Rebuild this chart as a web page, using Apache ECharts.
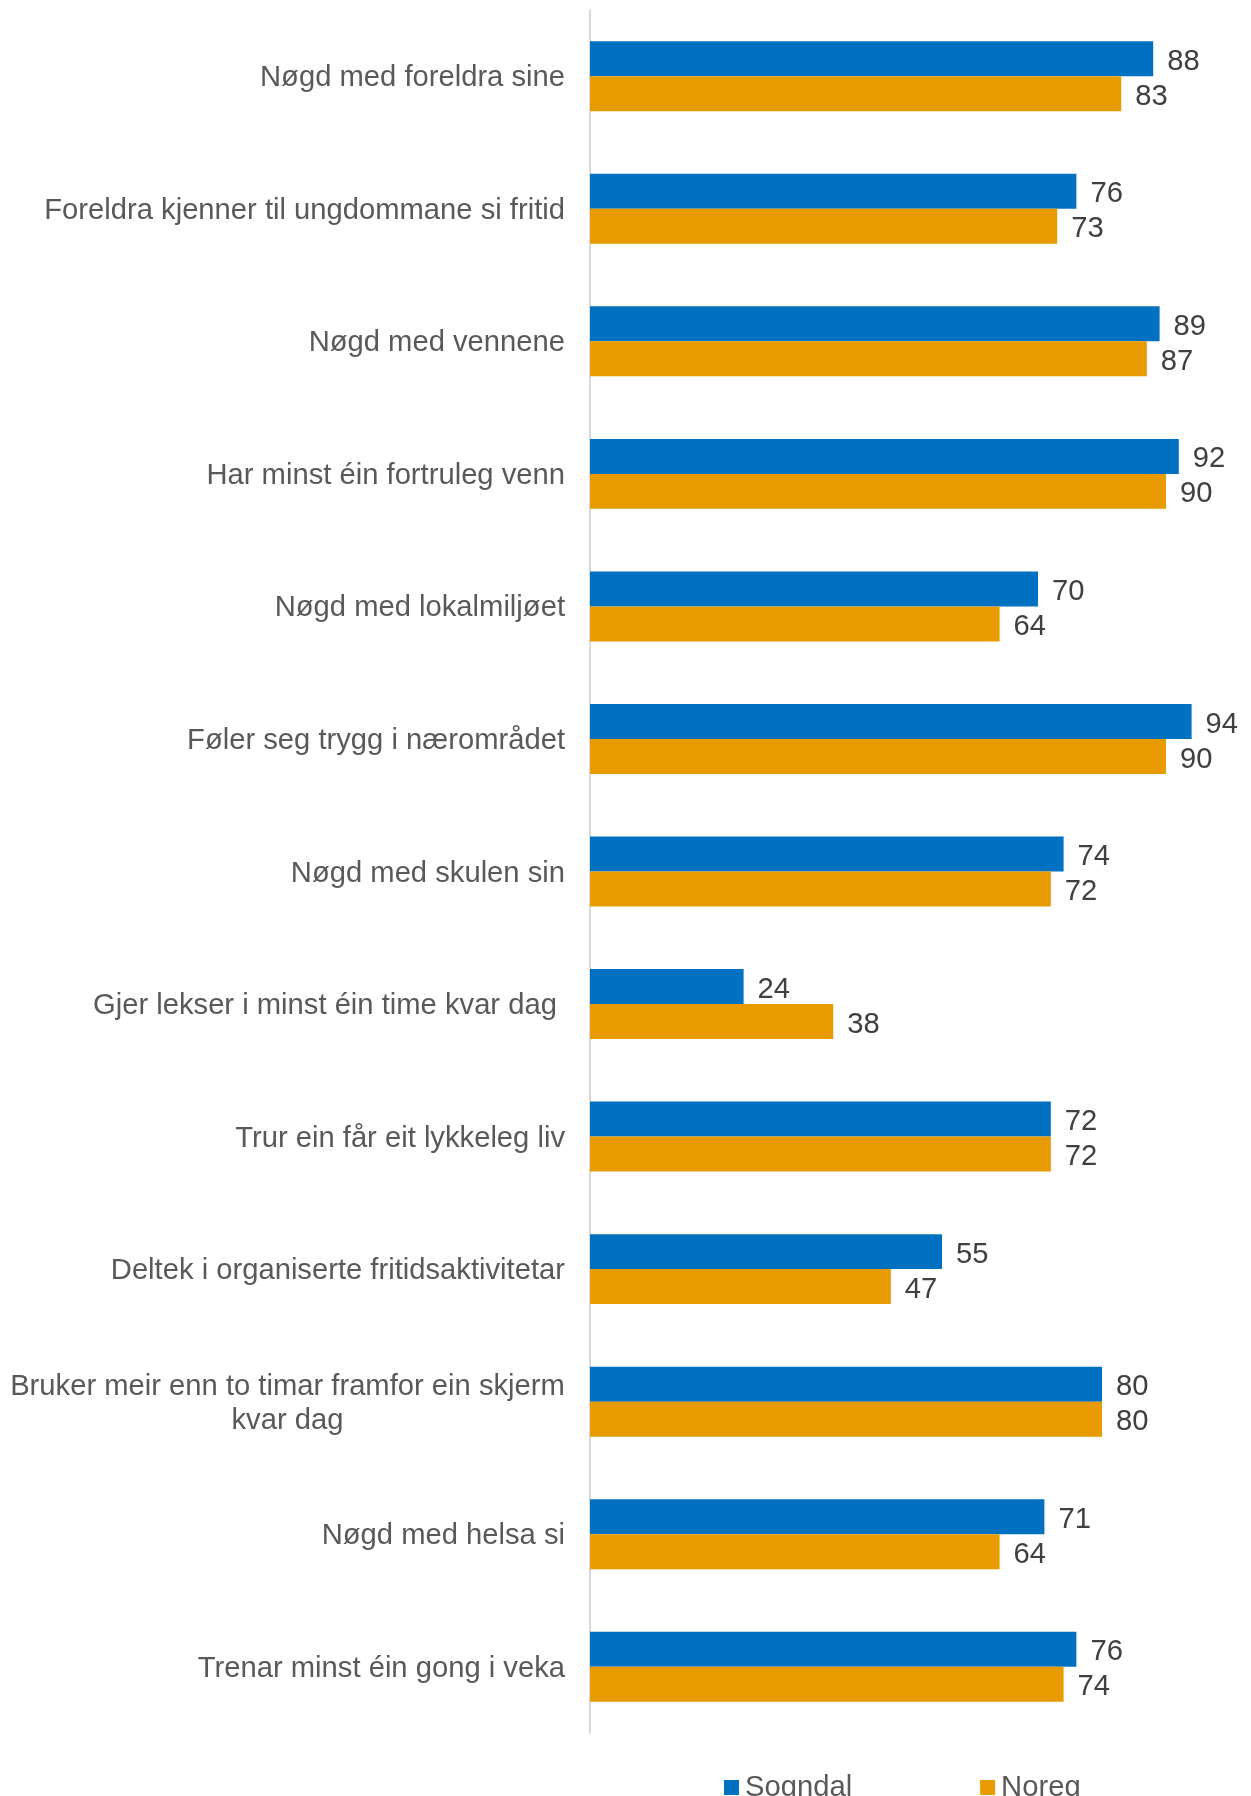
<!DOCTYPE html>
<html>
<head>
<meta charset="utf-8">
<script src="https://cdn.jsdelivr.net/npm/echarts@6/dist/echarts.min.js"></script>
<style>
html,body{margin:0;padding:0;background:#fff;}
#chart{width:1251px;height:1796px;}
</style>
</head>
<body>
<div id="chart"></div>
<script>
const categories = [
  "Nøgd med foreldra sine",
  "Foreldra kjenner til ungdommane si fritid",
  "Nøgd med vennene",
  "Har minst éin fortruleg venn",
  "Nøgd med lokalmiljøet",
  "Føler seg trygg i nærområdet",
  "Nøgd med skulen sin",
  "Gjer lekser i minst éin time kvar dag ",
  "Trur ein får eit lykkeleg liv",
  "Deltek i organiserte fritidsaktivitetar",
  "Bruker meir enn to timar framfor ein skjerm\nkvar dag",
  "Nøgd med helsa si",
  "Trenar minst éin gong i veka"
];
const seriesNames = ["Sogndal", "Noreg"];
const sogndal = [88, 76, 89, 92, 70, 94, 74, 24, 72, 55, 80, 71, 76];
const noreg = [83, 73, 87, 90, 64, 90, 72, 38, 72, 47, 80, 64, 74];

const FONT = "'Liberation Sans', Arial, sans-serif";
const FS = 29.2;
const measureCtx = document.createElement('canvas').getContext('2d');
measureCtx.font = FS + 'px ' + FONT;
function blockWidth(s) {
  return Math.ceil(Math.max.apply(null, s.split('\n').map(l => measureCtx.measureText(l).width)));
}
const chart = echarts.init(document.getElementById('chart'), null, {renderer: 'canvas'});
const labelStyle = {
  show: true, position: 'right', distance: 14, offset: [0, 3],
  fontSize: FS, fontFamily: FONT, color: '#404040'
};
const multi = categories.filter(c => c.indexOf('\n') >= 0)[0];
const multiW = multi ? blockWidth(multi) : 500;
chart.setOption({
  animation: false,
  backgroundColor: '#ffffff',
  grid: {left: 590, right: 21, top: 10, bottom: 63, containLabel: false},
  legend: {
    data: seriesNames,
    left: 719, top: 1768,
    itemWidth: 15, itemHeight: 15, itemGap: 128,
    icon: 'rect',
    textStyle: {fontSize: FS, fontFamily: FONT, color: '#595959', padding: [0,0,0,1]}
  },
  xAxis: {
    type: 'value', min: 0, max: 100,
    show: false,
    splitLine: {show: false}
  },
  yAxis: {
    type: 'category', inverse: true,
    data: categories,
    axisLine: {show: true, lineStyle: {color: '#D9D9D9', width: 2}},
    axisTick: {show: false},
    axisLabel: {
      margin: 25, fontSize: FS, fontFamily: FONT, color: '#595959', lineHeight: 34,
      padding: [4, 0, 0, 0],
      formatter: function (v) {
        if (v.indexOf('\n') >= 0) return '{c|' + v + '}';
        return v;
      },
      rich: {
        c: {align: 'center', width: multiW, fontSize: FS, fontFamily: FONT, color: '#595959', lineHeight: 34}
      }
    }
  },
  series: [
    {
      name: seriesNames[0], type: 'bar', data: sogndal,
      barWidth: '26.4%', barGap: '0%',
      itemStyle: {color: '#0070C0'},
      label: labelStyle
    },
    {
      name: seriesNames[1], type: 'bar', data: noreg,
      barWidth: '26.4%', barGap: '0%',
      itemStyle: {color: '#E89B00'},
      label: labelStyle
    }
  ]
});
</script>
</body>
</html>
